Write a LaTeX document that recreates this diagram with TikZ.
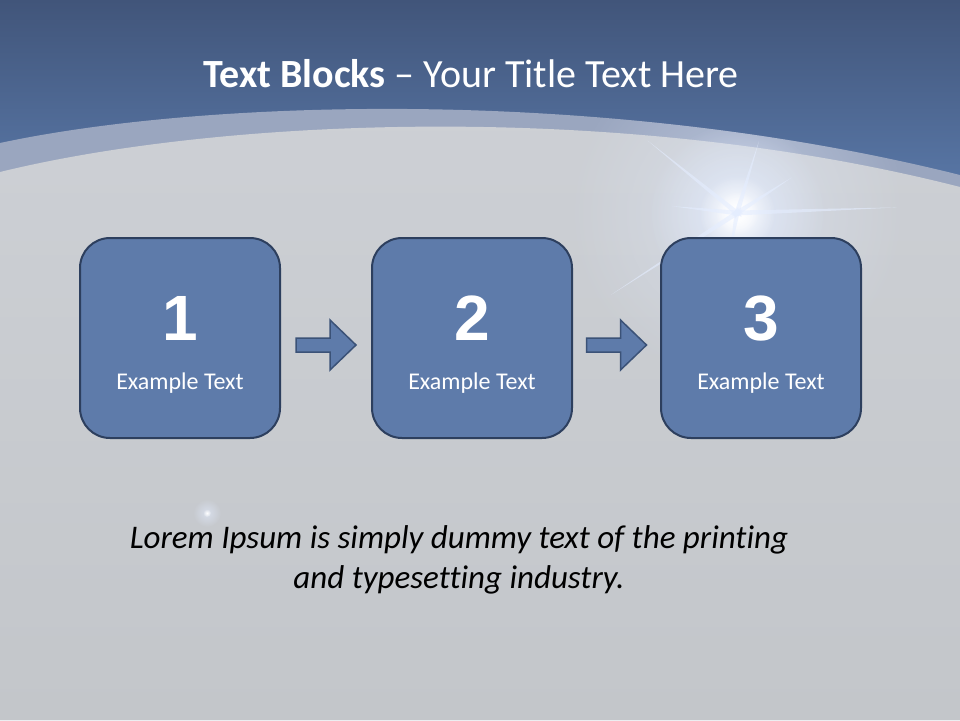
\documentclass[tikz,border=0pt]{standalone}
\usepackage{fontspec}
\setmainfont{Carlito}[Ligatures={TeX,NoCommon}]
\newfontfamily\numfont{Liberation Sans}
\usetikzlibrary{arrows.meta,positioning,calc,fadings}
\definecolor{bgtop}{HTML}{41557A}
\definecolor{bgblue}{HTML}{5A79A9}
\definecolor{band}{HTML}{9AA6BF}
\definecolor{graytop}{HTML}{CDD0D5}
\definecolor{graybot}{HTML}{C3C6CA}
\definecolor{boxfill}{HTML}{5E7BAA}
\definecolor{boxedge}{HTML}{2D3F5E}
\definecolor{arrowedge}{HTML}{3B5277}
\definecolor{glowc}{HTML}{E4EDFF}
\tikzfading[name=glowfade, inner color=transparent!0, outer color=transparent!100]

\begin{document}
\begin{tikzpicture}[x=1pt, y=-1pt,
      numbox/.style={draw=boxedge, fill=boxfill, line width=2pt, rounded corners=30pt,
                     minimum width=200pt, minimum height=200pt, inner sep=0pt},
      numtxt/.style={text=white, anchor=base, font=\numfont\bfseries\fontsize{64}{64}\selectfont},
      captxt/.style={text=white, anchor=base, font=\fontsize{24}{28}\selectfont},
      blk/.style={draw=arrowedge, fill=boxfill, line width=1.5pt, line join=miter},
      ray/.style={fill=glowc, opacity=0.6},
      node distance=90pt]
    \useasboundingbox (0,0) rectangle (960,720);
    % background
    \shade[top color=bgtop, bottom color=bgblue] (0,0) rectangle (960,200);
    \fill[band] (0,143) .. controls (200,100) and (600,85) .. (960,175) -- (960,720) -- (0,720) -- cycle;
    \shade[top color=graytop, bottom color=graybot] (0,172) .. controls (220,118) and (620,100) .. (960,187)
      -- (960,720) -- (0,720) -- cycle;
    % light flare
    \coordinate (glow) at (737,213);
    \begin{scope}
      \clip (0,143) .. controls (200,100) and (600,85) .. (960,175) -- (960,720) -- (0,720) -- cycle;
      \fill[glowc, path fading=glowfade, opacity=0.45] (glow) circle (170);
      \fill[glowc, path fading=glowfade, opacity=0.8] (glow) circle (90);
    \end{scope}
    \fill[white, path fading=glowfade] (glow) circle (38);
    \fill[white, path fading=glowfade] (glow) circle (22);
    \foreach \a/\l in {219/115, 287/75, 327/65, 358/160, 186/65, 147/150, 100/40}
      \fill[ray] ($(glow)+(\a+90:2.5)$) -- ($(glow)+(\a:\l)$) -- ($(glow)+(\a-90:2.5)$) -- ($(glow)+(\a+180:6)$) -- cycle;
    \coordinate (spark) at (207,513);
    \fill[glowc, path fading=glowfade, opacity=0.6] (spark) circle (14);
    \fill[white, path fading=glowfade] (spark) circle (4);
    % title
    \node[text=white, anchor=base, font=\fontsize{40}{48}\selectfont] (title) at (471,87)
      {\textbf{Text Blocks} – Your Title Text Here};
    % blocks
    \node[numbox] (b1) at (180,338) {};
    \node[numbox, right=of b1] (b2) {};
    \node[numbox, right=87pt of b2] (b3) {};
    \foreach \i in {1,2,3} {
      \node[numtxt] (n\i) at ($(b\i.center)+(0,2)$) {\i};
      \node[captxt] (c\i) at ($(b\i.center)+(0,51)$) {Example Text};
    }
    % block arrows
    \path (b1.east) -- (b2.west) coordinate[pos=0.5] (m1);
    \path (b2.east) -- (b3.west) coordinate[pos=0.5] (m2);
    \foreach \m in {m1,m2}
      \draw[blk] ($(\m)+(-30,0)$) -- ($(\m)+(4,0)$) -- ($(\m)+(4,-18)$) -- ($(\m)+(30,7)$)
        -- ($(\m)+(4,32)$) -- ($(\m)+(4,14)$) -- ($(\m)+(-30,14)$) -- cycle;
    % caption
    \node[anchor=base, align=center, font=\itshape\fontsize{33}{40}\selectfont] (txt) at (459,588)
      {Lorem Ipsum is simply dummy text of the printing\\and typesetting industry.};
\end{tikzpicture}
\end{document}
